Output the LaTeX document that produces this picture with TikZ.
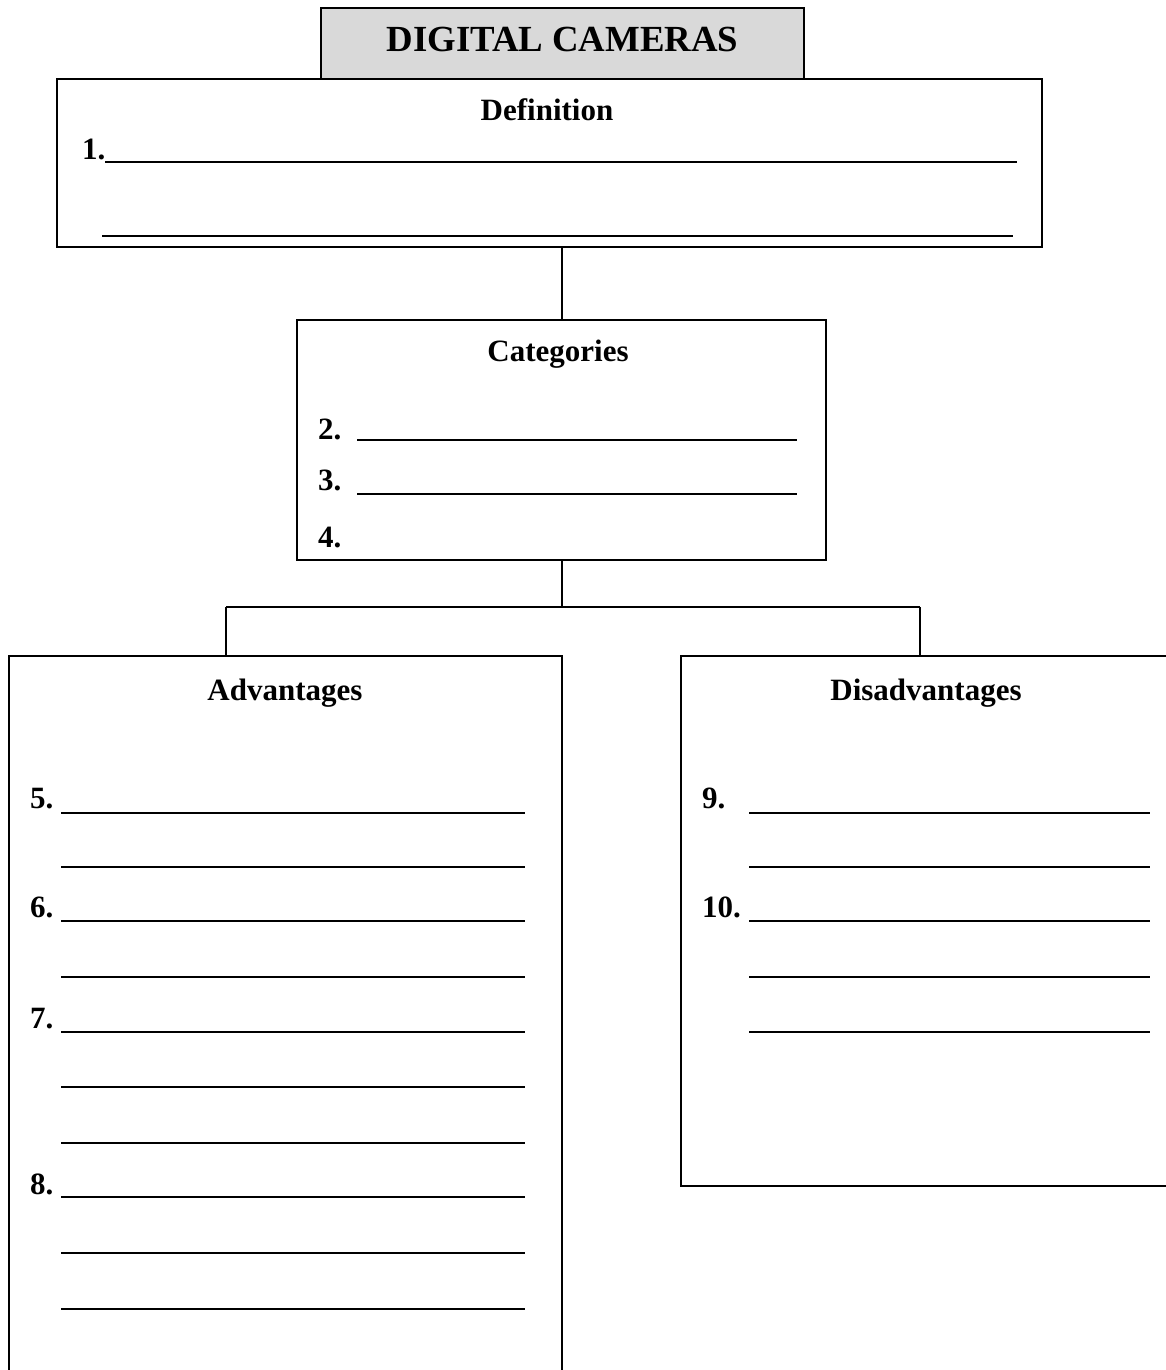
\documentclass[tikz,border=0pt]{standalone}
\usepackage{fontspec}
\setmainfont{Liberation Serif}
\definecolor{titlegray}{HTML}{D9D9D9}
\begin{document}
\begin{tikzpicture}[x=1pt,y=-1pt,
  box/.style={draw=black,line width=2.5pt,rectangle,inner sep=0pt},
  conn/.style={draw=black,line width=2pt},
  uline/.style={draw=black,line width=2.5pt},
  head/.style={font=\fontsize{31}{36}\selectfont\bfseries,anchor=base,inner sep=0pt},
  num/.style={font=\fontsize{31}{36}\selectfont\bfseries,anchor=base west,inner sep=0pt},
  titletext/.style={font=\fontsize{36.8}{42}\selectfont\bfseries,anchor=base,inner sep=0pt}]
\useasboundingbox (0,0) rectangle (1166,1370);
\clip (0,0) rectangle (1166,1370);
\fill[white] (0,0) rectangle (1166,1370);
% boxes
\node[box,fill=titlegray,minimum width=483pt,minimum height=71pt] (title) at (562.5,43.5) {};
\node[box,minimum width=985pt,minimum height=168pt] (def) at (549.5,163) {};
\node[box,minimum width=529pt,minimum height=240pt] (cat) at (561.5,440) {};
\node[box,minimum width=553pt,minimum height=734pt] (adv) at (285.5,1023) {};
\node[box,minimum width=499pt,minimum height=530pt] (dis) at (930.5,921) {};
% texts
\node[titletext] (ttl) at (562.5,52) {DIGITAL CAMERAS};
\node[head] (hdef) at (547,121) {Definition};
\node[head] (hcat) at (558,361) {Categories};
\node[head] (hadv) at (285,700) {Advantages};
\node[head] (hdis) at (926,700) {Disadvantages};
\node[num] (n1) at (82,159) {1.};
\node[num] (n2) at (318,439) {2.};
\node[num] (n3) at (318,490) {3.};
\node[num] (n4) at (318,547) {4.};
\node[num] (n5) at (30,808) {5.};
\node[num] (n6) at (30,917) {6.};
\node[num] (n7) at (30,1028) {7.};
\node[num] (n8) at (30,1194) {8.};
\node[num] (n9) at (702,808) {9.};
\node[num] (n10) at (702,917) {10.};
% underlines
\coordinate (l1a) at (105,162); \coordinate (l1b) at (1017,162);
\coordinate (l1c) at (102,236); \coordinate (l1d) at (1013,236);
\draw[uline] (l1a) -- (l1b); \draw[uline] (l1c) -- (l1d);
\coordinate (c2a) at (357,440); \coordinate (c2b) at (797,440);
\coordinate (c3a) at (357,494); \coordinate (c3b) at (797,494);
\draw[uline] (c2a) -- (c2b); \draw[uline] (c3a) -- (c3b);
\foreach \yy [count=\i] in {813,867,921,977,1032,1087,1143,1197,1253,1309}{
  \coordinate (a\i a) at (61,\yy); \coordinate (a\i b) at (525,\yy);
  \draw[uline] (a\i a) -- (a\i b);
}
\foreach \yy [count=\i] in {813,867,921,977,1032}{
  \coordinate (d\i a) at (749,\yy); \coordinate (d\i b) at (1150,\yy);
  \draw[uline] (d\i a) -- (d\i b);
}
% connectors
\coordinate (jm) at (561.5,607);
\coordinate (ja) at (226,607);
\coordinate (jd) at (920,607);
\draw[conn] (def.south -| cat.north) -- (cat.north);
\draw[conn] (cat.south) -- (jm);
\draw[conn] (ja) -- (jd);
\draw[conn] (ja) -- (ja |- adv.north);
\draw[conn] (jd) -- (jd |- dis.north);
\end{tikzpicture}
\end{document}
